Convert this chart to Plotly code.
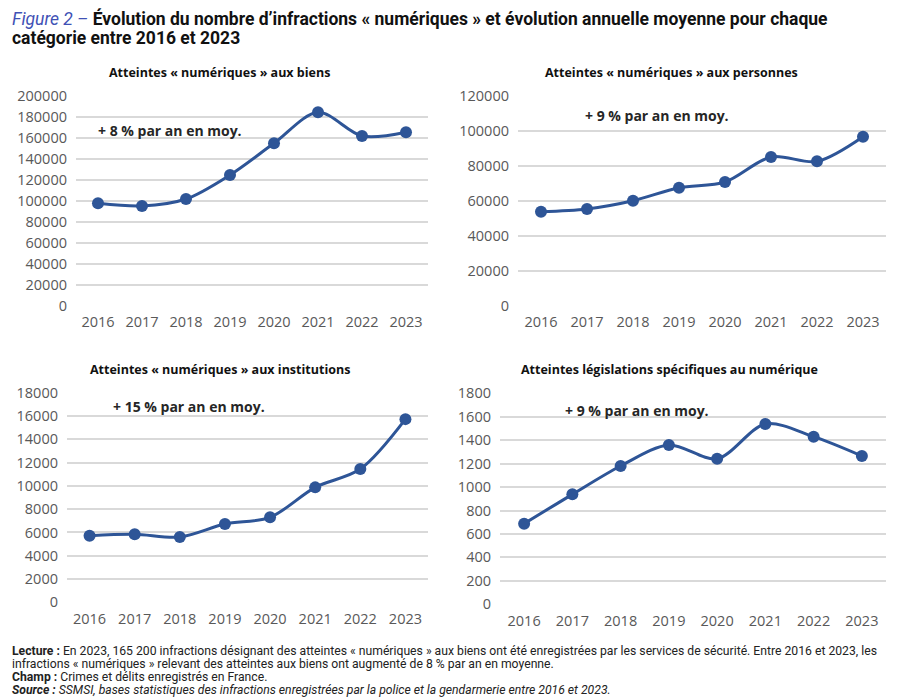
import plotly.graph_objects as go

years = ["2016", "2017", "2018", "2019", "2020", "2021", "2022", "2023"]
biens = [97500, 95000, 101600, 124500, 154700, 184200, 161600, 165200]
personnes = [53700, 55300, 60000, 67400, 70700, 85000, 82500, 96600]
institutions = [5720, 5840, 5600, 6720, 7300, 9870, 11440, 15730]
legislations = [688, 938, 1180, 1359, 1242, 1538, 1430, 1265]

panel_titles = [
    "Atteintes « numériques » aux biens",
    "Atteintes « numériques » aux personnes",
    "Atteintes « numériques » aux institutions",
    "Atteintes législations spécifiques au numérique",
]
growth_labels = ["+ 8 % par an en moy.", "+ 9 % par an en moy.",
                 "+ 15 % par an en moy.", "+ 9 % par an en moy."]
y_max = [200000, 120000, 18000, 1800]
y_step = [20000, 20000, 2000, 200]
series = [biens, personnes, institutions, legislations]

# page body has an 8px margin: figure drawn 8px smaller, coordinates shifted
OFF = 8
W, H = 906 - OFF, 698 - OFF
LINE = "#2E5597"
TICK = "#595959"
GRID = "#D9D9D9"


def px(x):
    return (x - OFF) / W


def py(y):
    return 1 - (y - OFF) / H


# reference pixel boxes (left, top, right, bottom)
boxes = [(76, 95.7, 428, 305.7), (518, 95.7, 886, 305.7),
         (67, 392.7, 428, 602.3), (500, 393.3, 886, 604.3)]
title_pos = [(107, 73), (543, 73), (88, 369), (519, 369)]
growth_pos = [(96, 131), (583, 116), (111, 406), (563, 410)]

fig = go.Figure()
for i, vals in enumerate(series):
    n = i + 1
    xa = "x" if n == 1 else f"x{n}"
    ya = "y" if n == 1 else f"y{n}"
    fig.add_trace(go.Scatter(
        x=list(range(len(years))), y=vals, xaxis=xa, yaxis=ya,
        mode="lines+markers", line=dict(color=LINE, width=3, shape="spline", smoothing=0.9),
        marker=dict(color=LINE, size=12), showlegend=False, hoverinfo="skip"))
    l, t, r, b = boxes[i]
    xkey = "xaxis" if n == 1 else f"xaxis{n}"
    ykey = "yaxis" if n == 1 else f"yaxis{n}"
    fig.update_layout({
        xkey: dict(domain=[px(l), px(r)], anchor=ya, range=[-0.5, 7.5],
                   tickvals=list(range(len(years))), ticktext=years,
                   showgrid=False, zeroline=False, showline=False, automargin=False,
                   tickfont=dict(family="Open Sans", size=14.5, color=TICK),
                   ticks="", ticklabelstandoff=6),
        ykey: dict(domain=[py(b), py(t)], anchor=xa, range=[0, y_max[i]],
                   dtick=y_step[i], tick0=0, showgrid=True, gridcolor=GRID, gridwidth=1.5,
                   zeroline=False, showline=False, tickformat="d", automargin=False,
                   tickfont=dict(family="Open Sans", size=14.5, color=TICK),
                   ticks="", ticklabelstandoff=8),
    })

annotations = []
for i in range(4):
    tx, ty = title_pos[i]
    annotations.append(dict(text=f"<b>{panel_titles[i]}</b>", x=px(tx), y=py(ty),
                            xref="paper", yref="paper", xanchor="left", yanchor="middle",
                            showarrow=False, font=dict(family="Open Sans", size=12.5, color="#111111")))
    gx, gy = growth_pos[i]
    annotations.append(dict(text=f"<b>{growth_labels[i]}</b>", x=px(gx), y=py(gy),
                            xref="paper", yref="paper", xanchor="left", yanchor="middle",
                            showarrow=False, font=dict(family="Open Sans", size=14, color="#262626")))

annotations.append(dict(
    text="<i><span style='color:#3F51B5'>Figure 2 –</span></i> <b>Évolution du nombre d’infractions « numériques » et évolution annuelle moyenne pour chaque</b>",
    x=px(10), y=py(19), xref="paper", yref="paper", xanchor="left", yanchor="middle",
    showarrow=False, font=dict(family="Roboto", size=17.5, color="#111111")))
annotations.append(dict(
    text="<b>catégorie entre 2016 et 2023</b>",
    x=px(10), y=py(38), xref="paper", yref="paper", xanchor="left", yanchor="middle",
    showarrow=False, font=dict(family="Roboto", size=17.5, color="#111111")))

footer = [
    "<b>Lecture :</b> En 2023, 165 200 infractions désignant des atteintes « numériques » aux biens ont été enregistrées par les services de sécurité. Entre 2016 et 2023, les",
    "infractions « numériques » relevant des atteintes aux biens ont augmenté de 8 % par an en moyenne.",
    "<b>Champ :</b> Crimes et délits enregistrés en France.",
    "<b><i>Source :</i></b> <i>SSMSI, bases statistiques des infractions enregistrées par la police et la gendarmerie entre 2016 et 2023.</i>",
]
for k, line in enumerate(footer):
    annotations.append(dict(text=line, x=px(10), y=py(651 + 13 * k),
                            xref="paper", yref="paper", xanchor="left", yanchor="middle",
                            showarrow=False, font=dict(family="Roboto", size=12.2, color="#222222")))

fig.update_layout(width=W, height=H, margin=dict(l=0, r=0, t=0, b=0, autoexpand=False),
                  paper_bgcolor="white", plot_bgcolor="white", annotations=annotations)

fig.write_html("out.html")
